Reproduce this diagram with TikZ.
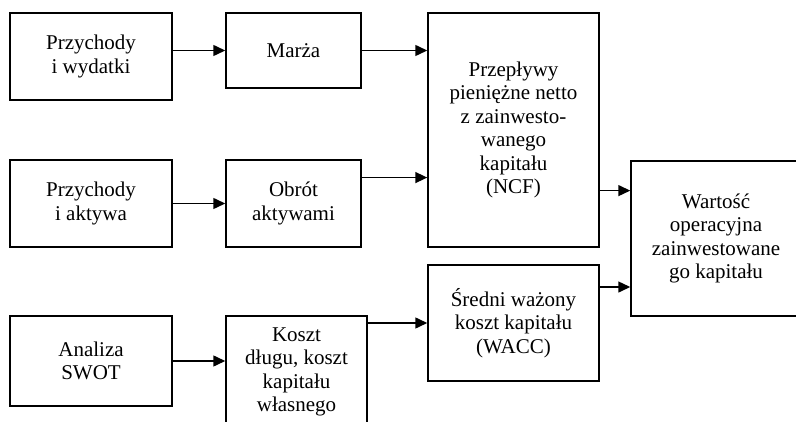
\documentclass[tikz,border=0pt]{standalone}
\usepackage{fontspec}
\setmainfont{Liberation Serif}
\usetikzlibrary{arrows.meta,calc}

\begin{document}
\begin{tikzpicture}[x=1pt,y=-1pt,line cap=butt,line join=miter,
  box/.style={draw,line width=1.5pt,inner sep=0pt,align=center,font=\fontsize{21}{23.5}\selectfont},
  arr/.style={line width=1.5pt,-{Triangle[length=12pt,width=11pt]}}]
\clip (0,0) rectangle (796,422);
\path[use as bounding box] (0,0) rectangle (796,422);
\node[box,minimum width=162pt,minimum height=87pt] (pw) at (91,56.5) {Przychody\\i wydatki};
\node[box,minimum width=135pt,minimum height=75pt] (marza) at (293.5,50.5) {Marża};
\node[box,minimum width=162pt,minimum height=87pt] (pa) at (91,203.5) {Przychody\\i aktywa};
\node[box,minimum width=135pt,minimum height=87pt] (obrot) at (293.5,203.5) {Obrót\\aktywami};
\node[box,minimum width=171pt,minimum height=234pt] (ncf) at (513.5,130) {Przepływy\\pieniężne netto\\z zainwesto-\\wanego\\kapitału\\(NCF)};
\node[box,minimum width=170pt,minimum height=155pt] (wart) at (716,238.5) {Wartość\\operacyjna\\zainwestowane\\go kapitału};
\node[box,minimum width=171pt,minimum height=116pt] (wacc) at (513.5,323) {Średni ważony\\koszt kapitału\\(WACC)};
\node[box,minimum width=162pt,minimum height=90pt] (swot) at (91,361) {Analiza\\SWOT};
\node[box,minimum width=141pt,minimum height=112pt] (koszt) at (296.5,372) {Koszt\\długu, koszt\\kapitału\\własnego};
\draw[arr] (pw.east |- marza.west) -- (marza.west);
\draw[arr] (marza.east) -- (marza.east -| ncf.west);
\draw[arr] (pa.east) -- (obrot.west);
\draw[arr] ($(obrot.north east)!0.207!(obrot.south east)$) coordinate (o1) -- (o1 -| ncf.west);
\draw[arr] ($(wart.north west)!0.194!(wart.south west)$) coordinate (w1) (w1 -| ncf.east) -- (w1);
\draw[arr] ($(wart.north west)!0.81!(wart.south west)$) coordinate (w2) (w2 -| wacc.east) -- (w2);
\draw[arr] (wacc.west -| koszt.east) -- (wacc.west);
\draw[arr] (swot.east) -- (swot.east -| koszt.west);
\end{tikzpicture}
\end{document}
